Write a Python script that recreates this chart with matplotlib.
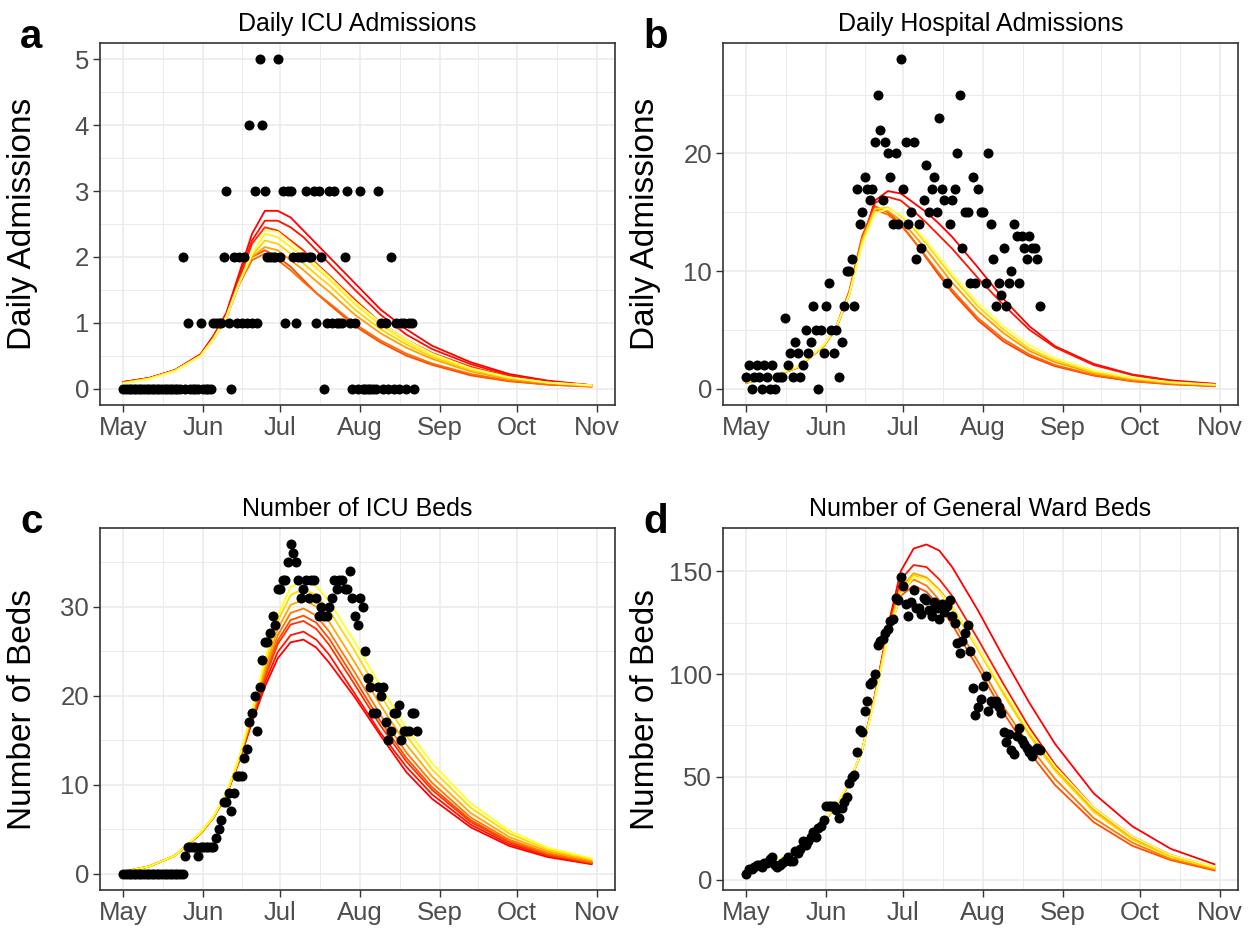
import numpy as np
import matplotlib.pyplot as plt
from matplotlib.ticker import FixedLocator

plt.rcParams['font.family'] = ['Liberation Sans', 'DejaVu Sans']

# x axis: days since 1 May
month_days = [0, 31, 61, 92, 123, 153, 184]
month_labels = ['May', 'Jun', 'Jul', 'Aug', 'Sep', 'Oct', 'Nov']
month_mid = [15.5, 46, 76.5, 107.5, 138, 168.5]

# observed daily counts, starting 1 May
icu_adm = [
    0, 0, 0, 0, 0, 0, 0, 0, 0, 0,
    0, 0, 0, 0, 0, 0, 0, 0, 0, 0,
    0, 0, 0, 2, 0, 1, 0, 0, 0, 0,
    1, 0, 0, 0, 0, 1, 1, 1, 1, 2,
    3, 1, 0, 2, 1, 2, 1, 2, 1, 4,
    1, 3, 1, 5, 4, 3, 2, 2, 2, 2,
    5, 2, 3, 1, 3, 3, 2, 1, 2, 2,
    2, 3, 2, 2, 3, 1, 3, 2, 0, 1,
    3, 1, 3, 1, 1, 1, 2, 3, 1, 0,
    1, 0, 3, 0, 0, 0, 0, 0, 0, 3,
    1, 0, 1, 0, 2, 0, 1, 0, 1, 1,
    0, 1, 1, 0,
]
hosp_adm = [
    1, 2, 0, 1, 2, 1, 0, 2, 1, 0,
    2, 0, 1, 1, 1, 6, 2, 3, 1, 4,
    3, 1, 2, 5, 3, 4, 7, 5, 0, 5,
    3, 7, 9, 5, 3, 5, 1, 4, 7, 10,
    10, 11, 7, 17, 14, 15, 18, 17, 16, 17,
    21, 25, 22, 16, 21, 20, 18, 14, 20, 14,
    28, 17, 21, 14, 15, 21, 11, 14, 12, 16,
    19, 15, 17, 18, 15, 23, 17, 16, 9, 14,
    16, 17, 20, 25, 12, 15, 15, 9, 18, 9,
    17, 15, 15, 9, 20, 14, 11, 7, 9, 8,
    12, 7, 9, 10, 14, 13, 9, 13, 12, 11,
    13, 12, 12, 11, 7,
]
icu_beds = [
    0, 0, 0, 0, 0, 0, 0, 0, 0, 0,
    0, 0, 0, 0, 0, 0, 0, 0, 0, 0,
    0, 0, 0, 0, 2, 3, 3, 3, 3, 2,
    3, 3, 3, 3, 3, 3, 4, 5, 6, 8,
    8, 9, 7, 9, 11, 11, 11, 13, 14, 17,
    18, 20, 16, 21, 24, 26, 26, 27, 29, 28,
    32, 32, 33, 33, 35, 37, 36, 35, 33, 31,
    32, 33, 31, 33, 33, 31, 29, 30, 29, 29,
    30, 31, 33, 32, 33, 33, 32, 32, 34, 31,
    29, 28, 31, 30, 25, 22, 21, 18, 18, 21,
    20, 21, 17, 15, 16, 18, 18, 19, 15, 16,
    16, 16, 18, 18, 16,
]
ward_beds = [
    3, 5, 5, 6, 7, 7, 6, 8, 8, 10,
    11, 7, 6, 7, 8, 9, 11, 9, 9, 14,
    13, 15, 19, 17, 19, 21, 23, 21, 25, 26,
    29, 36, 36, 36, 36, 34, 30, 35, 38, 40,
    47, 50, 51, 62, 73, 72, 82, 87, 95, 96,
    100, 114, 116, 117, 120, 122, 126, 127, 137, 136,
    147, 143, 134, 128, 135, 141, 132, 132, 129, 137,
    136, 131, 128, 135, 132, 127, 134, 130, 133, 136,
    128, 125, 115, 110, 116, 120, 124, 111, 93, 80,
    84, 88, 94, 99, 82, 87, 86, 87, 84, 81,
    72, 67, 71, 63, 61, 70, 74, 68, 66, 64,
    62, 60, 63, 64, 63,
]

# model trajectories, sampled at these days
knot_days = [0, 10, 20, 30, 35, 40, 45, 50, 55, 60, 65, 70, 75, 80,
             90, 100, 110, 120, 135, 150, 165, 182]

icu_adm_runs = [
    [0.1, 0.16, 0.28, 0.52, 0.8, 1.15, 1.75, 2.35, 2.7, 2.7, 2.6, 2.4, 2.2, 2.0, 1.6, 1.2, 0.9, 0.65, 0.4, 0.22, 0.12, 0.05],
    [0.1, 0.16, 0.28, 0.52, 0.8, 1.12, 1.7, 2.25, 2.55, 2.55, 2.45, 2.3, 2.1, 1.9, 1.5, 1.12, 0.82, 0.6, 0.37, 0.2, 0.11, 0.05],
    [0.1, 0.16, 0.28, 0.5, 0.78, 1.1, 1.65, 2.2, 2.45, 2.4, 2.25, 2.1, 1.9, 1.72, 1.35, 1.0, 0.74, 0.54, 0.33, 0.18, 0.1, 0.05],
    [0.09, 0.15, 0.27, 0.5, 0.76, 1.08, 1.6, 2.0, 2.1, 2.0, 1.85, 1.65, 1.45, 1.28, 0.95, 0.7, 0.5, 0.36, 0.2, 0.11, 0.06, 0.03],
    [0.09, 0.15, 0.27, 0.5, 0.75, 1.07, 1.58, 1.95, 2.05, 1.95, 1.8, 1.62, 1.45, 1.3, 0.98, 0.73, 0.53, 0.38, 0.22, 0.12, 0.06, 0.03],
    [0.09, 0.15, 0.27, 0.5, 0.75, 1.08, 1.6, 2.0, 2.15, 2.1, 1.95, 1.8, 1.63, 1.47, 1.12, 0.84, 0.62, 0.45, 0.26, 0.14, 0.08, 0.04],
    [0.08, 0.15, 0.27, 0.5, 0.75, 1.08, 1.6, 2.02, 2.25, 2.2, 2.05, 1.9, 1.73, 1.57, 1.2, 0.9, 0.67, 0.48, 0.28, 0.16, 0.09, 0.04],
    [0.08, 0.15, 0.27, 0.5, 0.76, 1.1, 1.62, 2.05, 2.35, 2.3, 2.15, 2.0, 1.83, 1.66, 1.28, 0.96, 0.71, 0.51, 0.3, 0.17, 0.09, 0.05],
    [0.08, 0.14, 0.26, 0.49, 0.75, 1.08, 1.6, 2.05, 2.4, 2.38, 2.22, 2.05, 1.88, 1.7, 1.32, 1.0, 0.74, 0.53, 0.31, 0.17, 0.09, 0.05],
]
hosp_adm_runs = [
    [0.5, 1.0, 1.8, 3.6, 5.2, 8.0, 12.6, 16.0, 16.8, 16.6, 15.8, 15.0, 14.0, 12.9, 10.3, 7.6, 5.3, 3.6, 2.1, 1.2, 0.7, 0.4],
    [0.5, 1.0, 1.8, 3.6, 5.2, 8.0, 12.6, 15.8, 16.3, 16.0, 15.1, 14.1, 13.0, 11.9, 9.4, 7.1, 5.0, 3.5, 2.0, 1.15, 0.65, 0.38],
    [0.5, 1.0, 1.8, 3.6, 5.3, 8.3, 13.0, 15.5, 15.0, 14.0, 12.6, 11.1, 9.6, 8.2, 5.8, 4.0, 2.75, 1.9, 1.1, 0.62, 0.36, 0.2],
    [0.5, 1.0, 1.8, 3.6, 5.3, 8.2, 12.8, 15.2, 14.8, 13.9, 12.6, 11.2, 9.8, 8.4, 6.0, 4.2, 2.9, 2.0, 1.15, 0.65, 0.38, 0.22],
    [0.5, 1.0, 1.8, 3.6, 5.2, 8.1, 12.6, 15.3, 15.1, 14.3, 13.1, 11.8, 10.4, 9.0, 6.6, 4.7, 3.2, 2.25, 1.3, 0.75, 0.45, 0.27],
    [0.5, 1.0, 1.8, 3.6, 5.2, 8.0, 12.5, 15.3, 15.4, 14.7, 13.6, 12.3, 10.9, 9.5, 7.0, 5.0, 3.4, 2.4, 1.4, 0.85, 0.5, 0.3],
    [0.55, 1.05, 1.9, 3.7, 5.3, 8.0, 12.2, 14.9, 15.3, 14.8, 13.8, 12.6, 11.2, 9.8, 7.3, 5.3, 3.7, 2.6, 1.55, 0.92, 0.55, 0.33],
]
icu_beds_runs = [
    [0.2, 0.8, 2.0, 4.5, 6.3, 8.8, 12.6, 17.0, 21.0, 24.2, 26.0, 26.3, 25.4, 23.7, 19.8, 15.5, 11.4, 8.4, 5.2, 3.1, 1.85, 1.05],
    [0.2, 0.8, 2.0, 4.5, 6.3, 8.8, 12.7, 17.2, 21.5, 24.9, 26.8, 27.2, 26.3, 24.6, 20.2, 15.8, 12.0, 8.9, 5.5, 3.3, 2.0, 1.1],
    [0.2, 0.8, 2.0, 4.5, 6.3, 8.9, 12.8, 17.4, 22.0, 25.8, 28.0, 28.4, 27.5, 25.7, 21.2, 16.6, 12.6, 9.4, 5.8, 3.5, 2.1, 1.2],
    [0.2, 0.8, 2.0, 4.5, 6.3, 8.9, 12.8, 17.4, 22.2, 26.2, 28.5, 29.0, 28.2, 26.4, 21.8, 17.1, 13.0, 9.7, 6.0, 3.6, 2.15, 1.2],
    [0.2, 0.8, 2.0, 4.5, 6.3, 8.9, 12.8, 17.6, 22.6, 26.8, 29.3, 29.8, 29.0, 27.2, 22.6, 17.8, 13.6, 10.2, 6.3, 3.8, 2.3, 1.3],
    [0.2, 0.8, 2.0, 4.5, 6.3, 8.9, 12.9, 17.8, 23.0, 27.5, 30.2, 30.8, 30.0, 28.3, 23.7, 18.9, 14.5, 10.9, 6.8, 4.1, 2.5, 1.45],
    [0.2, 0.8, 2.0, 4.6, 6.4, 9.0, 13.0, 18.0, 23.6, 28.4, 31.3, 32.0, 31.3, 29.6, 25.0, 20.0, 15.5, 11.7, 7.4, 4.5, 2.7, 1.6],
    [0.2, 0.8, 2.0, 4.6, 6.4, 9.0, 13.0, 18.2, 24.0, 29.0, 32.2, 33.0, 32.3, 30.6, 26.0, 21.0, 16.3, 12.4, 7.9, 4.8, 2.9, 1.7],
]
ward_beds_runs = [
    [3.5, 7.5, 14.5, 28, 36, 47, 63, 90, 123, 150, 161, 163, 160, 152, 131, 108, 86, 66, 42, 26, 15, 7.5],
    [3.5, 7.5, 14.5, 28, 36, 47, 63, 90, 122, 146, 153, 152, 146, 138, 117, 95, 74, 56, 35, 21, 12, 6],
    [3.5, 7.5, 14.5, 28, 36, 47, 63, 89, 119, 138, 143, 140, 133, 124, 103, 81, 62, 46, 28, 16.5, 9.5, 4.5],
    [3.5, 7.5, 14.5, 28, 36, 47, 63, 89, 120, 140, 146, 143, 136, 127, 106, 84, 65, 49, 30, 18, 10, 5],
    [3.5, 7.5, 14.5, 28, 36, 47, 63, 89, 121, 142, 149, 147, 141, 133, 113, 91, 71, 54, 34, 20, 11.5, 5.8],
    [3.5, 7.5, 14.5, 28, 36, 47, 63, 89, 120, 141, 148, 146, 140, 132, 112, 90, 70, 53, 33, 19.5, 11, 5.5],
    [3.8, 8, 15, 28.5, 36.5, 47.5, 63, 88, 118, 139, 147, 146, 140, 133, 113, 92, 72, 55, 35, 21, 12, 6.2],
]

heat_a = ['#FF0000', '#FF1000', '#FF2A00', '#FF4A00', '#FF6A00', '#FFA000', '#FFD000', '#FFEF20', '#FFFF70']
heat_b = ['#FF0000', '#FF1400', '#FF4000', '#FF6A00', '#FF9A00', '#FFDA00', '#FFFF60']
heat_c = ['#FF0000', '#FF1400', '#FF3000', '#FF4C00', '#FF7800', '#FFA800', '#FFD800', '#FFFF20']
heat_d = ['#FF0000', '#FF1800', '#FF5000', '#FF7A00', '#FFA000', '#FFD400', '#FFFF60']

panels = [
    ('a', 'Daily ICU Admissions', 'Daily Admissions', icu_adm, icu_adm_runs, heat_a,
     [0, 1, 2, 3, 4, 5], [0.5, 1.5, 2.5, 3.5, 4.5]),
    ('b', 'Daily Hospital Admissions', 'Daily Admissions', hosp_adm, hosp_adm_runs, heat_b,
     [0, 10, 20], [5, 15, 25]),
    ('c', 'Number of ICU Beds', 'Number of Beds', icu_beds, icu_beds_runs, heat_c,
     [0, 10, 20, 30], [5, 15, 25, 35]),
    ('d', 'Number of General Ward Beds', 'Number of Beds', ward_beds, ward_beds_runs, heat_d,
     [0, 50, 100, 150], [25, 75, 125]),
]

W, H = 1250, 930
fig = plt.figure(figsize=(W / 100, H / 100), dpi=100)
boxes = [(100, 43), (723, 43), (100, 528), (723, 528)]
aw, ah = 515, 362

for (letter, title, ylab, obs, runs, cols, yt, ymt), (px, py) in zip(panels, boxes):
    ax = fig.add_axes([px / W, 1 - (py + ah) / H, aw / W, ah / H])
    for run, c in zip(runs, cols):
        ax.plot(knot_days, run, color=c, lw=1.3, zorder=2)
    ax.scatter(np.arange(len(obs)), obs, s=52, color='black', linewidths=0, zorder=3)

    ax.set_xticks(month_days)
    ax.set_xticklabels(month_labels)
    ax.xaxis.set_minor_locator(FixedLocator(month_mid))
    ax.set_yticks(yt)
    ax.yaxis.set_minor_locator(FixedLocator(ymt))
    ax.set_xlim(-9.1, 191.1)
    ax.margins(y=0.05)

    ax.grid(which='major', color='#EBEBEB', lw=1.2, zorder=0)
    ax.grid(which='minor', color='#EBEBEB', lw=0.7, zorder=0)
    ax.set_axisbelow(True)
    ax.tick_params(which='major', labelsize=18.5, labelcolor='#4D4D4D', color='#333333',
                   length=5, width=1, pad=3)
    ax.tick_params(which='minor', length=0)
    for s in ax.spines.values():
        s.set_color('#333333')
        s.set_linewidth(1.2)

    ax.set_title(title, fontsize=18, pad=9)
    ax.set_ylabel(ylab, fontsize=24)
    ax.yaxis.set_label_coords(-0.12, 0.5)

    fig.text((px - 80) / W, 1 - (py + 5) / H, letter, fontsize=29, fontweight='bold',
             ha='left', va='baseline')

fig.savefig('out.png', dpi=100)
